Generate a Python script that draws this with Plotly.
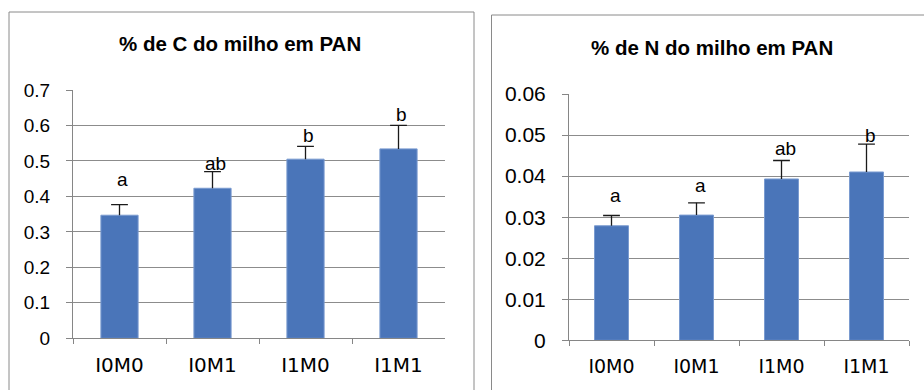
import plotly.graph_objects as go

# Treatments
categories = ["I0M0", "I0M1", "I1M0", "I1M1"]

# % C in maize (PAN) with standard error and letters
carbon_mean = [0.347, 0.423, 0.505, 0.534]
carbon_err = [0.030, 0.047, 0.036, 0.066]
carbon_letters = ["a", "ab", "b", "b"]

# % N in maize (PAN) with standard error and letters
nitrogen_mean = [0.0279, 0.0305, 0.0393, 0.0410]
nitrogen_err = [0.0025, 0.0030, 0.0045, 0.0068]
nitrogen_letters = ["a", "a", "ab", "b"]

W, H = 924, 390
BAR = "#4A75B9"
BAR_EDGE = "#7A9BD0"
GRID = "#8C8C8C"
AXIS = "#868686"
ERR = "#1a1a1a"
FONT = "Liberation Sans"
CAT_FONT = "DejaVu Sans"


def px_x(x):
    return x / W


def px_y(y):
    return 1 - y / H


fig = go.Figure()


def add_bars(means, errs, xa, ya):
    # bars with upward-only error stems
    fig.add_trace(go.Bar(
        x=categories, y=means, xaxis=xa, yaxis=ya,
        marker=dict(color=BAR, line=dict(color=BAR_EDGE, width=1)),
        error_y=dict(type="data", symmetric=False, array=errs,
                     arrayminus=[0] * len(errs),
                     color=ERR, thickness=1.3, width=0),
        showlegend=False, hoverinfo="skip",
    ))
    # caps at the top of each error bar
    fig.add_trace(go.Scatter(
        x=categories, y=[m + e for m, e in zip(means, errs)],
        xaxis=xa, yaxis=ya, mode="markers",
        marker=dict(symbol="line-ew", size=12,
                    line=dict(color=ERR, width=1.3)),
        showlegend=False, hoverinfo="skip",
    ))


add_bars(carbon_mean, carbon_err, "x", "y")
add_bars(nitrogen_mean, nitrogen_err, "x2", "y2")


def xaxis_style(domain, anchor, size):
    return dict(
        domain=domain, anchor=anchor, type="category", tickson="boundaries",
        showline=True, linecolor=AXIS, linewidth=1,
        ticks="outside", ticklen=5, tickcolor=AXIS,
        showgrid=False, zeroline=False, automargin=False,
        tickfont=dict(family=CAT_FONT, size=size, color="#000"),
        ticklabelstandoff=9,
        range=[-0.5, 3.5], fixedrange=True,
    )


def yaxis_style(domain, anchor, rng, dtick, size):
    return dict(
        domain=domain, anchor=anchor, range=rng, dtick=dtick,
        showline=True, linecolor=AXIS, linewidth=1,
        ticks="outside", ticklen=6, tickcolor=AXIS,
        showgrid=True, gridcolor=GRID, gridwidth=1,
        zeroline=False, automargin=False,
        tickfont=dict(family=FONT, size=size, color="#000"),
        ticklabelstandoff=12,
        fixedrange=True,
    )


fig.update_layout(
    width=W, height=H,
    margin=dict(l=0, r=0, t=0, b=0, autoexpand=False),
    paper_bgcolor="white", plot_bgcolor="white",
    bargap=0.6,
    xaxis=xaxis_style([px_x(73), px_x(445)], "y", 20),
    yaxis=yaxis_style([px_y(338.3), px_y(90)], "x", [0, 0.7], 0.1, 19),
    xaxis2=xaxis_style([px_x(569), px_x(909)], "y2", 19),
    yaxis2=yaxis_style([px_y(340.3), px_y(94)], "x2", [0, 0.06], 0.01, 21),
)

# Chart frames
fig.add_shape(type="rect", xref="paper", yref="paper",
              x0=px_x(9), x1=px_x(474), y0=px_y(400), y1=px_y(12),
              line=dict(color="#8A8A8A", width=1), layer="below")
fig.add_shape(type="rect", xref="paper", yref="paper",
              x0=px_x(491.5), x1=px_x(940), y0=px_y(400), y1=px_y(15),
              line=dict(color="#8A8A8A", width=1), layer="below")

# Titles
fig.add_annotation(text="<b>% de C do milho em PAN</b>", xref="paper", yref="paper",
                   x=px_x(240), y=px_y(43), showarrow=False,
                   xanchor="center", yanchor="middle",
                   font=dict(family=FONT, size=20.5, color="#000"))
fig.add_annotation(text="<b>% de N do milho em PAN</b>", xref="paper", yref="paper",
                   x=px_x(712), y=px_y(47), showarrow=False,
                   xanchor="center", yanchor="middle",
                   font=dict(family=FONT, size=20.5, color="#000"))

# Significance letters above the error bars
c_shift = [25, 8, 11, 11]
n_shift = [20, 17, 12, 9]
for cat, m, e, lab, s in zip(categories, carbon_mean, carbon_err, carbon_letters, c_shift):
    fig.add_annotation(x=cat, y=m + e, xref="x", yref="y", text=lab,
                       showarrow=False, yanchor="middle", yshift=s, xshift=3,
                       font=dict(family=FONT, size=19, color="#000"))
for cat, m, e, lab, s in zip(categories, nitrogen_mean, nitrogen_err, nitrogen_letters, n_shift):
    fig.add_annotation(x=cat, y=m + e, xref="x2", yref="y2", text=lab,
                       showarrow=False, yanchor="middle", yshift=s, xshift=4,
                       font=dict(family=FONT, size=19, color="#000"))

fig.write_html("out.html")
